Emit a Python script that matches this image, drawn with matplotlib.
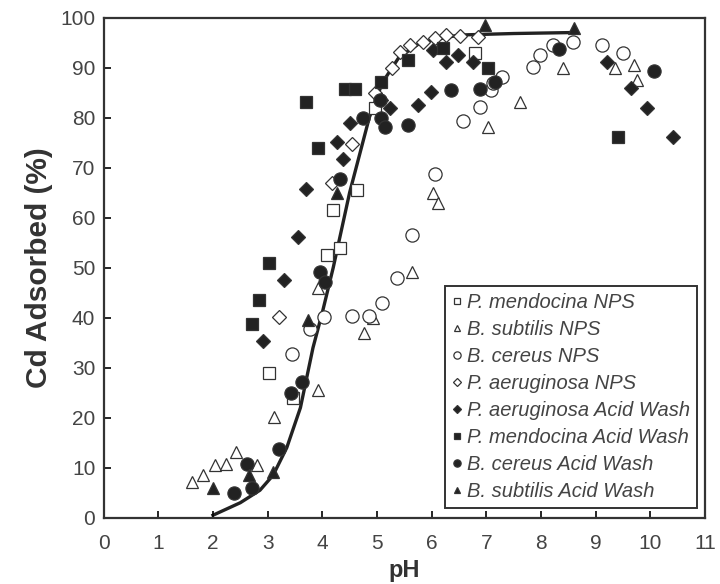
import matplotlib
matplotlib.use("Agg")
import matplotlib.pyplot as plt

plt.rcParams['font.family'] = ['Liberation Sans', 'DejaVu Sans']

# ---- data ----
pm_nps_x = [3.03, 3.46, 4.08, 4.20, 4.33, 4.63, 4.97, 6.80]
pm_nps_y = [28.9, 23.9, 52.6, 61.5, 54.0, 65.5, 82.0, 93.0]

bs_nps_x = [1.61, 1.82, 2.04, 2.24, 2.42, 2.80, 3.12, 3.93, 3.92, 4.77, 4.93, 5.65, 6.03, 6.12, 7.03, 7.61, 8.40, 9.35, 9.70, 9.75]
bs_nps_y = [7.2, 8.5, 10.5, 10.7, 13.2, 10.5, 20.2, 25.5, 46.0, 36.9, 39.9, 49.2, 64.9, 62.9, 78.2, 83.2, 89.9, 89.9, 90.5, 87.5]

bc_nps_x = [3.44, 3.77, 4.04, 4.55, 4.86, 5.10, 5.36, 5.65, 6.06, 6.58, 6.88, 7.09, 7.12, 7.28, 7.86, 7.98, 8.22, 8.59, 9.11, 9.51]
bc_nps_y = [32.7, 37.7, 40.2, 40.4, 40.4, 42.9, 47.9, 56.5, 68.7, 79.4, 82.2, 85.5, 86.9, 88.2, 90.2, 92.5, 94.5, 95.2, 94.5, 92.9]

pa_nps_x = [3.21, 4.17, 4.54, 4.96, 5.27, 5.42, 5.60, 5.84, 6.06, 6.27, 6.52, 6.85]
pa_nps_y = [40.2, 67.0, 74.7, 84.9, 89.9, 93.2, 94.5, 95.2, 95.9, 96.5, 96.3, 96.2]

pa_aw_x = [2.92, 3.30, 3.55, 3.71, 4.26, 4.37, 4.50, 5.08, 5.24, 5.75, 5.99, 6.03, 6.27, 6.48, 6.76, 9.20, 9.64, 9.94, 10.42]
pa_aw_y = [35.4, 47.5, 56.1, 65.7, 75.2, 71.7, 79.0, 83.5, 81.9, 82.5, 85.2, 93.5, 91.2, 92.5, 91.2, 91.2, 85.9, 81.9, 76.2]

pm_aw_x = [2.71, 2.84, 3.02, 3.71, 3.93, 4.41, 4.60, 5.08, 5.57, 6.20, 7.03, 9.41]
pm_aw_y = [38.7, 43.5, 51.0, 83.2, 73.9, 85.7, 85.7, 87.2, 91.5, 94.0, 89.9, 76.2]

bc_aw_x = [2.39, 2.63, 2.72, 3.21, 3.43, 3.63, 3.96, 4.05, 4.33, 4.74, 5.05, 5.08, 5.14, 5.57, 6.36, 6.88, 7.16, 8.33, 10.06]
bc_aw_y = [5.0, 10.7, 5.9, 13.7, 24.9, 27.1, 49.2, 47.2, 67.7, 79.9, 83.5, 79.9, 78.2, 78.5, 85.5, 85.7, 87.2, 93.7, 89.3]

bs_aw_x = [2.00, 2.66, 3.10, 3.74, 4.26, 6.97, 8.60]
bs_aw_y = [5.9, 8.5, 9.2, 39.5, 65.0, 98.5, 97.9]

fit_x = [2.0, 2.5, 2.86, 3.1, 3.35, 3.6, 3.83, 4.0, 4.2, 4.5, 4.86, 5.1, 5.4, 5.8, 6.5, 7.5, 8.6]
fit_y = [0.5, 3.0, 5.5, 8.5, 14.0, 22.0, 34.0, 41.0, 50.0, 65.0, 80.0, 87.0, 92.0, 95.0, 96.5, 96.8, 97.0]

labels = ["P. mendocina NPS", "B. subtilis NPS", "B. cereus NPS", "P. aeruginosa NPS",
          "P. aeruginosa Acid Wash", "P. mendocina Acid Wash", "B. cereus Acid Wash", "B. subtilis Acid Wash"]

fig = plt.figure(figsize=(7.2, 5.84), dpi=100)
ax = fig.add_axes([0.144, 0.1135, 0.835, 0.8565])

ax.plot(fit_x, fit_y, color='#222222', lw=2.4, zorder=1)

edge = '#333333'
series = [
    (pm_nps_x, pm_nps_y, 's', 'white', 9),
    (bs_nps_x, bs_nps_y, '^', 'white', 9),
    (bc_nps_x, bc_nps_y, 'o', 'white', 9.5),
    (pa_nps_x, pa_nps_y, 'D', 'white', 7.5),
    (pa_aw_x, pa_aw_y, 'D', '#222222', 7.5),
    (pm_aw_x, pm_aw_y, 's', '#222222', 9),
    (bc_aw_x, bc_aw_y, 'o', '#222222', 9.5),
    (bs_aw_x, bs_aw_y, '^', '#222222', 9),
]
handles = []
for (xs, ys, m, fc, ms), lab in zip(series, labels):
    h, = ax.plot(xs, ys, linestyle='none', marker=m, markersize=ms,
                 markerfacecolor=fc, markeredgecolor=edge, markeredgewidth=0.9,
                 label=lab, zorder=3)
    handles.append(h)

ax.set_xlim(0, 11)
ax.set_ylim(0, 100)
ax.set_xticks(range(0, 12))
ax.set_yticks(range(0, 101, 10))
ax.tick_params(direction='in', length=5, width=1.2, labelsize=15, labelcolor='#444444')
ax.tick_params(axis='x', pad=12)
ax.tick_params(axis='y', pad=6)
for s in ax.spines.values():
    s.set_linewidth(1.6)
    s.set_color('#333333')

ax.set_xlabel('pH', fontsize=17, fontweight='bold', color='#333333', labelpad=4)
ax.set_ylabel('Cd Adsorbed (%)', fontsize=21.5, fontweight='bold', color='#333333', labelpad=5)

leg = ax.legend(handles=handles, loc='lower right', bbox_to_anchor=(0.987, 0.019),
                prop={'style': 'italic', 'size': 14.5}, markerscale=0.55,
                handlelength=0.5, handletextpad=0.25, labelspacing=0.4,
                borderpad=0.35, borderaxespad=0.0, fancybox=False, framealpha=1,
                edgecolor='#333333')
leg.get_frame().set_linewidth(1.4)
for t in leg.get_texts():
    t.set_color('#444444')

fig.savefig('out.png', dpi=100)
